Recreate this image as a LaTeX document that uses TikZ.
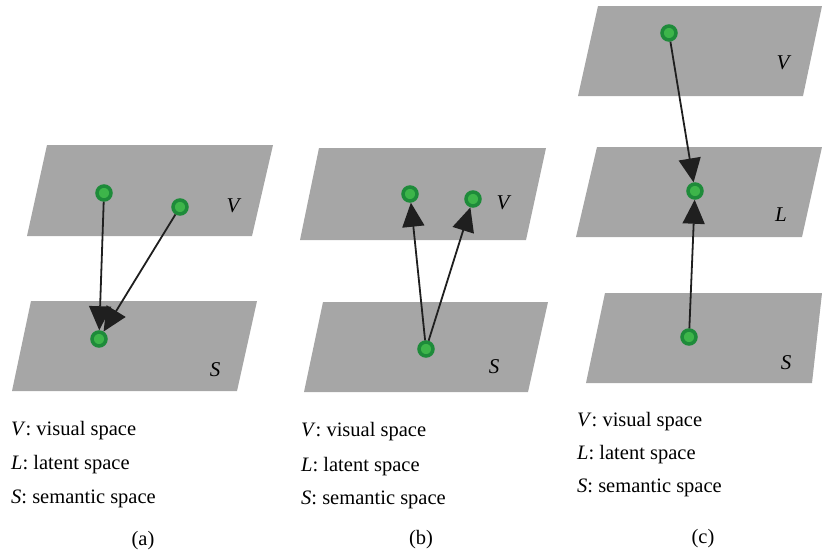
\documentclass[tikz,border=0pt]{standalone}
\usepackage{fontspec}
\setmainfont{Liberation Serif}
\usetikzlibrary{arrows.meta}
\definecolor{planegray}{HTML}{A6A6A6}
\definecolor{dotring}{HTML}{1E8B3A}
\definecolor{dotfill}{HTML}{3DB54A}
\tikzset{
  plane/.style={fill=planegray, draw=none},
  dot/.style={circle, fill=dotfill, draw=dotring, line width=3.5pt, minimum size=14pt, inner sep=0pt},
  conn/.style={line width=1.8pt, draw=black!88, -{Triangle[length=24pt,width=22pt]}},
  plabel/.style={font=\fontsize{21}{25}\selectfont\itshape, inner sep=0pt},
  legend/.style={font=\fontsize{20.5}{25}\selectfont, anchor=west, inner sep=0pt},
  subcap/.style={font=\fontsize{20.5}{25}\selectfont, inner sep=0pt}
}
\begin{document}
\begin{tikzpicture}[x=1pt,y=-1pt]
\useasboundingbox (0,0) rectangle (822,552);
% ---------- (a)
\fill[plane] (47,145) -- (273,145) -- (252,236) -- (27,236) -- cycle;
\fill[plane] (31,301) -- (257,301) -- (237,391) -- (12,391) -- cycle;
\node[plabel] (aV) at (233,206) {V};
\node[plabel] (aS) at (215,370) {S};
\node[dot] (a1) at (104,193) {};
\node[dot] (a2) at (180,207) {};
\node[dot] (a3) at (99,339) {};
\draw[conn] (a1) -- (a3);
\draw[conn] (a2) -- (a3);
\node[legend] (aLV) at (11,431) {\textit{V}: visual space};
\node[legend] (aLL) at (11,465) {\textit{L}: latent space};
\node[legend] (aLS) at (11,499) {\textit{S}: semantic space};
\node[subcap] (aC) at (143,541) {(a)};
% ---------- (b)
\fill[plane] (319,148) -- (546,148) -- (526,240) -- (300,240) -- cycle;
\fill[plane] (323,302) -- (548,302) -- (528,392) -- (304,392) -- cycle;
\node[plabel] (bV) at (503,203) {V};
\node[plabel] (bS) at (494,367) {S};
\node[dot] (b1) at (410,194) {};
\node[dot] (b2) at (473,199) {};
\node[dot] (b3) at (426,349) {};
\draw[conn] (b3) -- (b1);
\draw[conn] (b3) -- (b2);
\node[legend] (bLV) at (301,432) {\textit{V}: visual space};
\node[legend] (bLL) at (301,467) {\textit{L}: latent space};
\node[legend] (bLS) at (301,500) {\textit{S}: semantic space};
\node[subcap] (bC) at (421,540) {(b)};
% ---------- (c)
\fill[plane] (598,6) -- (822,6) -- (803,96) -- (578,96) -- cycle;
\fill[plane] (597,147) -- (822,147) -- (802,237) -- (576,237) -- cycle;
\fill[plane] (605,293) -- (822,293) -- (812,383) -- (586,383) -- cycle;
\node[plabel] (cV) at (783,63) {V};
\node[plabel] (cL) at (781,215) {L};
\node[plabel] (cS) at (786,363) {S};
\node[dot] (c1) at (669,33) {};
\node[dot] (c2) at (695,191) {};
\node[dot] (c3) at (689,337) {};
\draw[conn] (c1) -- (c2);
\draw[conn] (c3) -- (c2);
\node[legend] (cLV) at (577,422) {\textit{V}: visual space};
\node[legend] (cLL) at (577,455) {\textit{L}: latent space};
\node[legend] (cLS) at (577,488) {\textit{S}: semantic space};
\node[subcap] (cC) at (703,539) {(c)};
\end{tikzpicture}
\end{document}
